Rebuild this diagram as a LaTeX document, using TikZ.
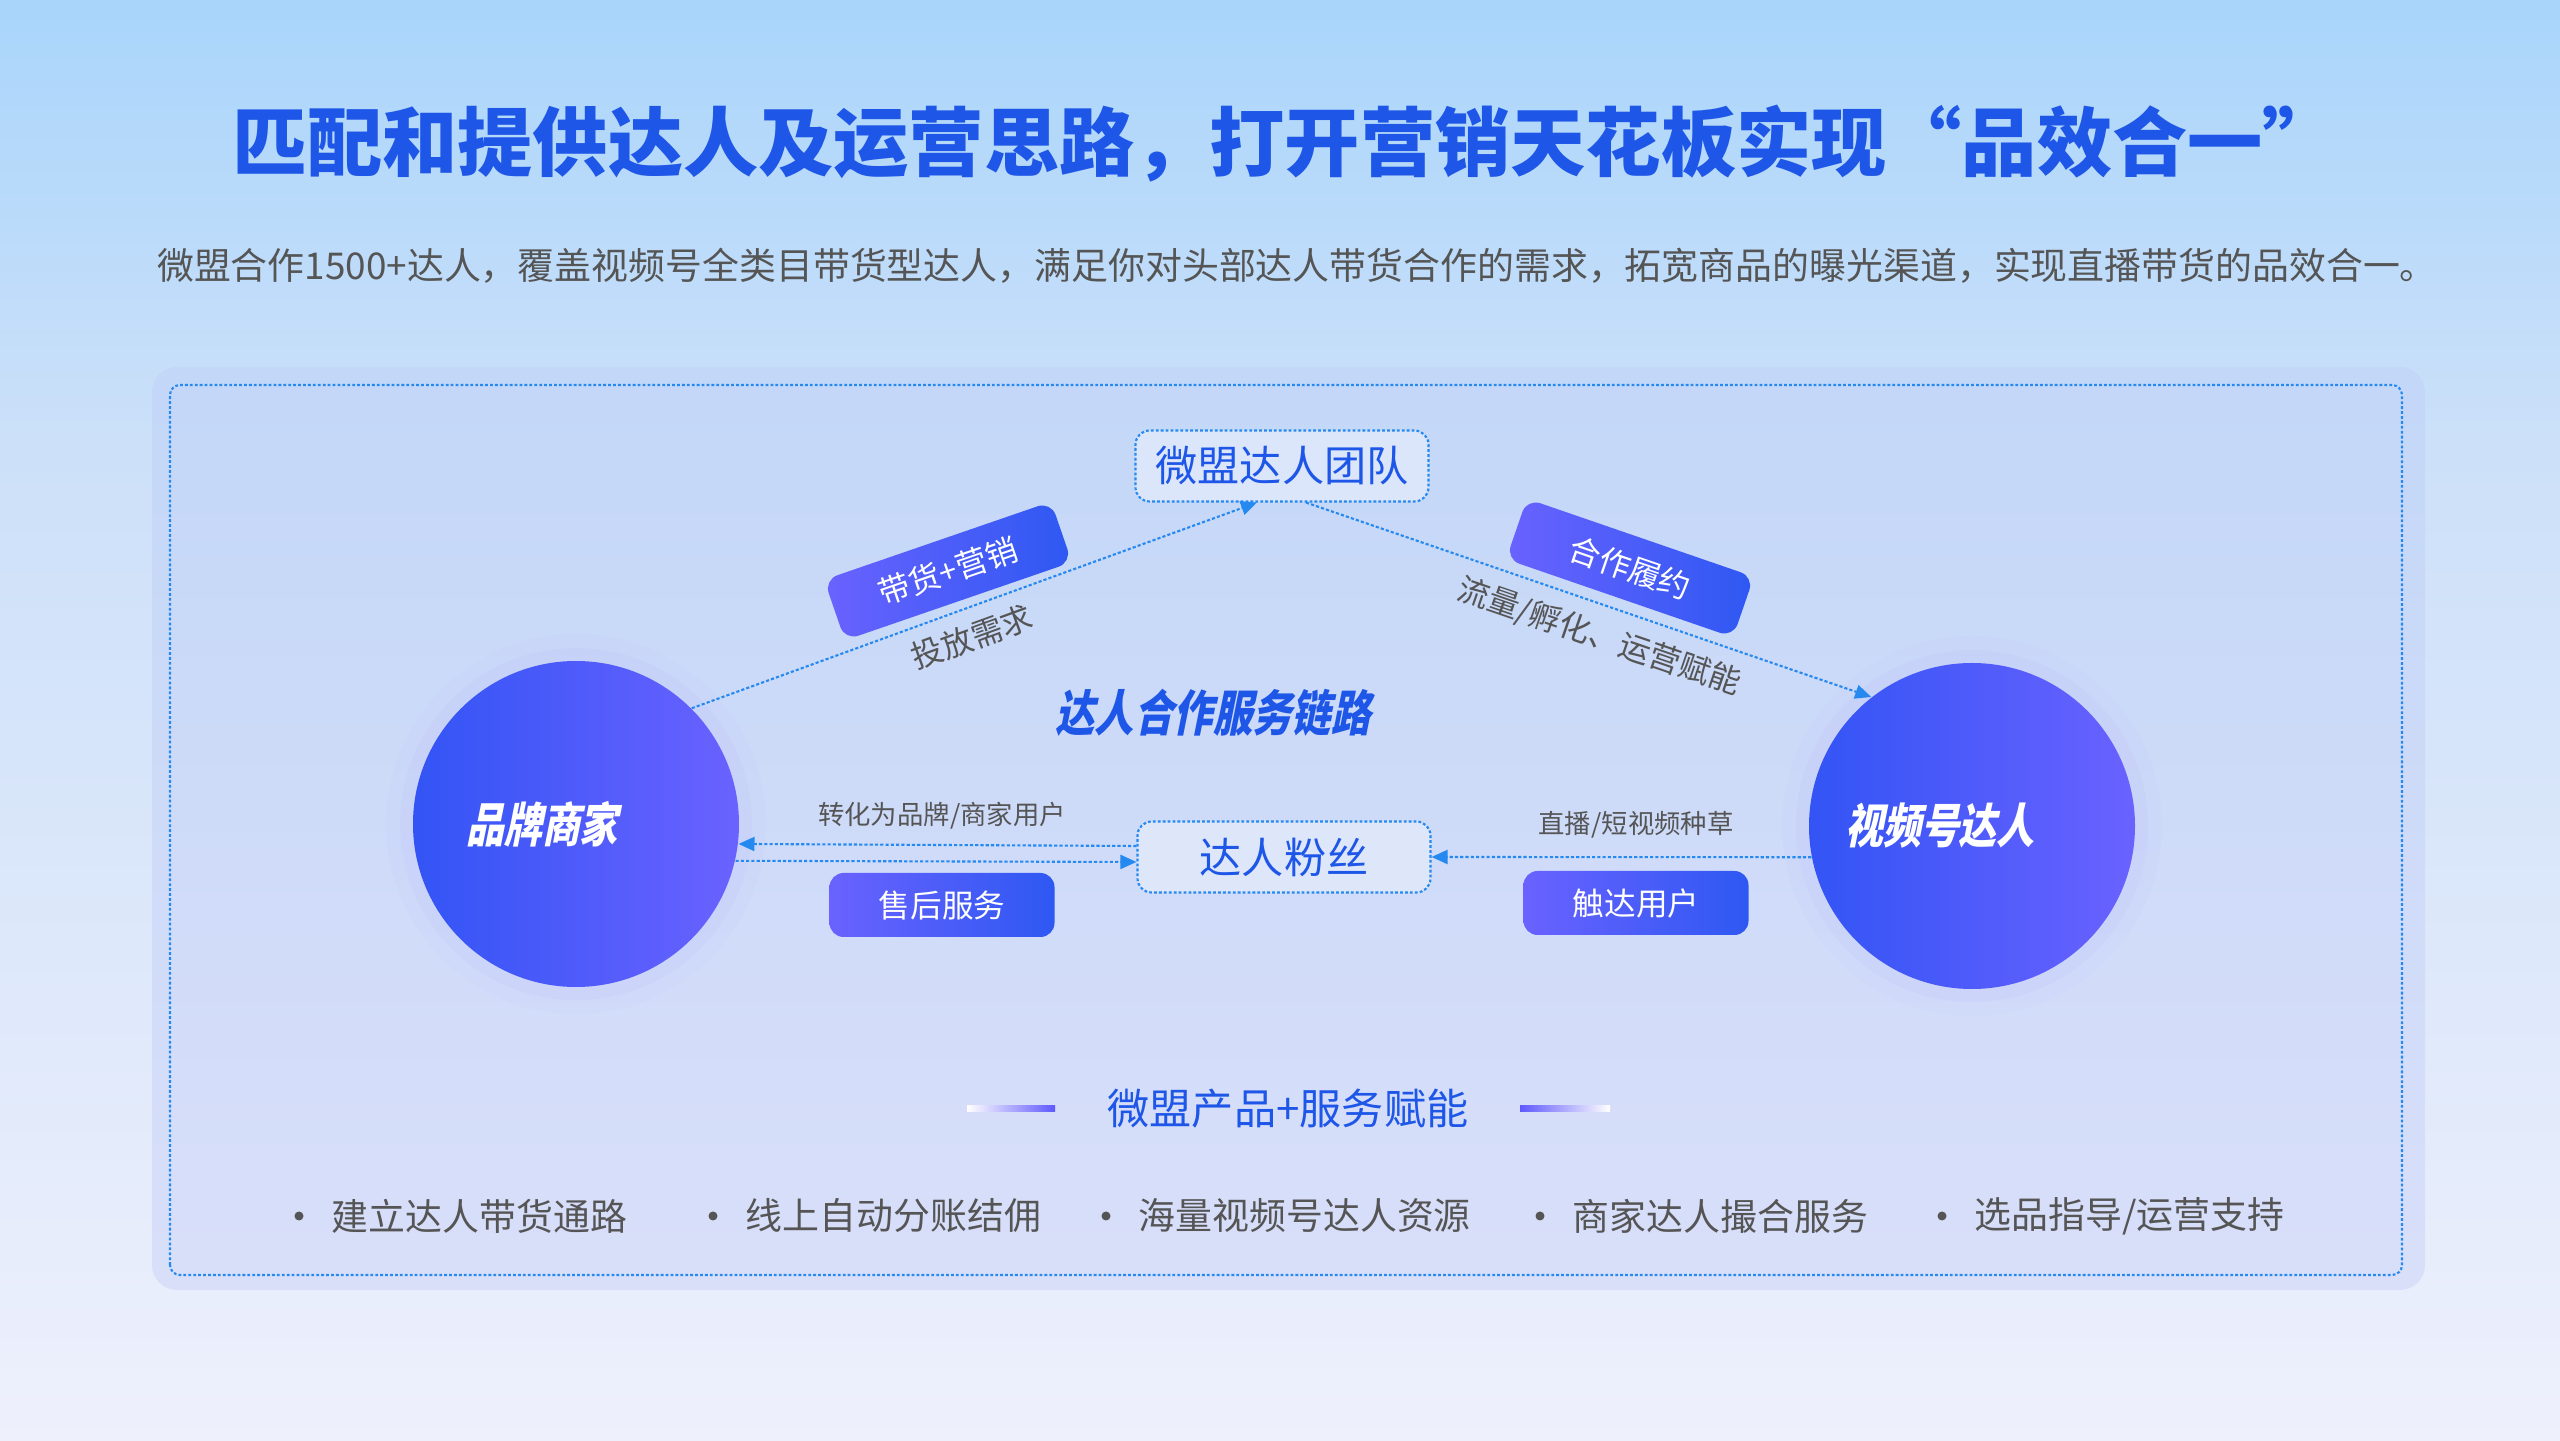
\documentclass[tikz,border=0pt]{standalone}
\usepackage{fontspec}
\setmainfont{Noto Sans CJK SC}
\newfontfamily\hubfont[FakeSlant=0.2,FakeStretch=0.8]{Noto Sans CJK SC}
\usetikzlibrary{arrows.meta,positioning,calc}
\definecolor{bgtop}{HTML}{A9D5FB}
\definecolor{bgmid}{HTML}{CCE0F9}
\definecolor{bgbot}{HTML}{EEF0FC}
\definecolor{panetop}{HTML}{C3D7F8}
\definecolor{panebot}{HTML}{D9DFF9}
\definecolor{headblue}{HTML}{1E56E8}
\definecolor{dotblue}{HTML}{2689F0}
\definecolor{txtgray}{HTML}{555555}
\definecolor{hubblue}{HTML}{3354F5}
\definecolor{hubviolet}{HTML}{6A62FF}
\definecolor{tagblue}{HTML}{2E58F2}
\definecolor{boxfill}{HTML}{E2EAFB}
\tikzset{
  hub/.style={
    circle, minimum size=3.26cm, inner sep=0pt,
    left color=hubblue, right color=hubviolet
  },
  hubtext/.style={
    font=\hubfont\bfseries\fontsize{13.5}{16}\selectfont, text=white
  },
  tagbox/.style={
    rectangle, rounded corners=4pt, inner sep=2pt,
    minimum width=2.25cm, minimum height=0.64cm,
    left color=hubviolet, right color=tagblue,
    text=white, font=\fontsize{9}{11}\selectfont
  },
  stationbox/.style={
    rectangle, rounded corners=4pt, draw=dotblue, line width=0.6pt,
    dash pattern=on 0.8pt off 0.6pt, fill=boxfill, fill opacity=0.8,
    text opacity=1, minimum width=2.93cm, minimum height=0.71cm,
    text=headblue, font=\fontsize{12}{14}\selectfont
  },
  flow/.style={
    dotblue, line width=0.6pt, dash pattern=on 0.9pt off 0.6pt,
    -{Triangle[length=1.6mm,width=1.4mm]}
  },
  noteline/.style={
    text=txtgray, font=\fontsize{#1}{11}\selectfont
  },
  noteline/.default=7.5,
}
\begin{document}
\begin{tikzpicture}
  % page and panel
  \useasboundingbox (0,0) rectangle (25.6,14.4);
  \shade[top color=bgtop, bottom color=bgmid] (0,10) rectangle (25.6,14.4);
  \shade[top color=bgmid, bottom color=bgbot] (0,0) rectangle (25.6,10.01);
  \shade[top color=panetop, bottom color=panebot, rounded corners=0.25cm]
    (1.52,1.50) rectangle (24.25,10.73);
  \draw[dotblue, line width=0.6pt, dash pattern=on 0.8pt off 0.6pt, rounded corners=0.1cm]
    (1.70,1.65) rectangle (24.02,10.55);

  % heading
  \node[text=headblue, font=\bfseries\fontsize{21.4}{24}\selectfont] (title) at (12.85,12.96)
    {匹配和提供达人及运营思路，打开营销天花板实现“品效合一”};
  \node[text=txtgray, font=\fontsize{10.5}{13}\selectfont] (subtitle) at (12.97,11.74)
    {微盟合作1500+达人，覆盖视频号全类目带货型达人，满足你对头部达人带货合作的需求，拓宽商品的曝光渠道，实现直播带货的品效合一。};

  % halos
  \foreach \c in {(5.76,6.16),(19.72,6.14)} {
    \fill[hubviolet!40, opacity=0.10] \c circle (1.90);
    \fill[hubviolet!50, opacity=0.12] \c circle (1.76);
  }

  % hubs and stations
  \node[hub] (brand) at (5.76,6.16) {};
  \node[hub] (creator) at (19.72,6.14) {};
  \node[hubtext] (brandtext) at (5.42,6.16) {品牌商家};
  \node[hubtext] (creatortext) at (19.40,6.14) {视频号达人};
  \node[stationbox] (team) at (12.82,9.74) {微盟达人团队};
  \node[stationbox] (fans) at (12.84,5.83) {达人粉丝};
  \node[text=headblue, font=\hubfont\bfseries\fontsize{14}{16}\selectfont] (chain) at (12.13,7.27)
    {达人合作服务链路};

  % connectors
  \draw[flow] (brand.45) -- ([xshift=-2.5mm]team.south);
  \draw[flow] ([xshift=2.4mm]team.south) -- (creator.128);
  \draw[flow] ([yshift=1.1mm]fans.west) -- (brand.-7.8);
  \draw[flow] (brand.-13.5) -- ([yshift=-0.5mm]fans.west);
  \draw[flow] (creator.191) -- (fans.east);

  % tags and notes
  \node[tagbox, rotate=19, minimum width=2.4cm] (tagsale) at (9.48,8.69) {带货+营销};
  \node[tagbox, rotate=-19, minimum width=2.4cm] (tagcoop) at (16.30,8.72) {合作履约};
  \node[tagbox] (tagservice) at (9.42,5.35) {售后服务};
  \node[tagbox] (tagreach) at (16.36,5.37) {触达用户};
  \node[noteline=9, rotate=20, inner sep=1pt] (demand) at (9.72,8.03) {投放需求};
  \node[noteline=9, rotate=-19, inner sep=1pt] (enable) at (15.99,8.03) {流量/孵化、运营赋能};
  \node[noteline] (convert) at (9.42,6.24) {转化为品牌/商家用户};
  \node[noteline] (seed) at (16.36,6.15) {直播/短视频种草};

  % product row
  \node[text=headblue, font=\fontsize{12}{14}\selectfont] (product) at (12.88,3.31) {微盟产品+服务赋能};
  \shade[left color=white, right color=hubviolet!90!blue] (9.67,3.28) rectangle (10.55,3.34);
  \shade[left color=hubviolet!90!blue, right color=white] (15.20,3.28) rectangle (16.10,3.34);
  \foreach \x/\t [count=\i] in {3.31/{建立达人带货通路}, 7.45/{线上自动分账结佣},
      11.38/{海量视频号达人资源}, 15.72/{商家达人撮合服务}, 19.74/{选品指导/运营支持}} {
    \fill[txtgray] (\x-0.32,2.24) circle (0.045);
    \node[noteline=10.5, anchor=west, inner sep=0pt] (item\i) at (\x,2.24) {\t};
  }
\end{tikzpicture}
\end{document}
